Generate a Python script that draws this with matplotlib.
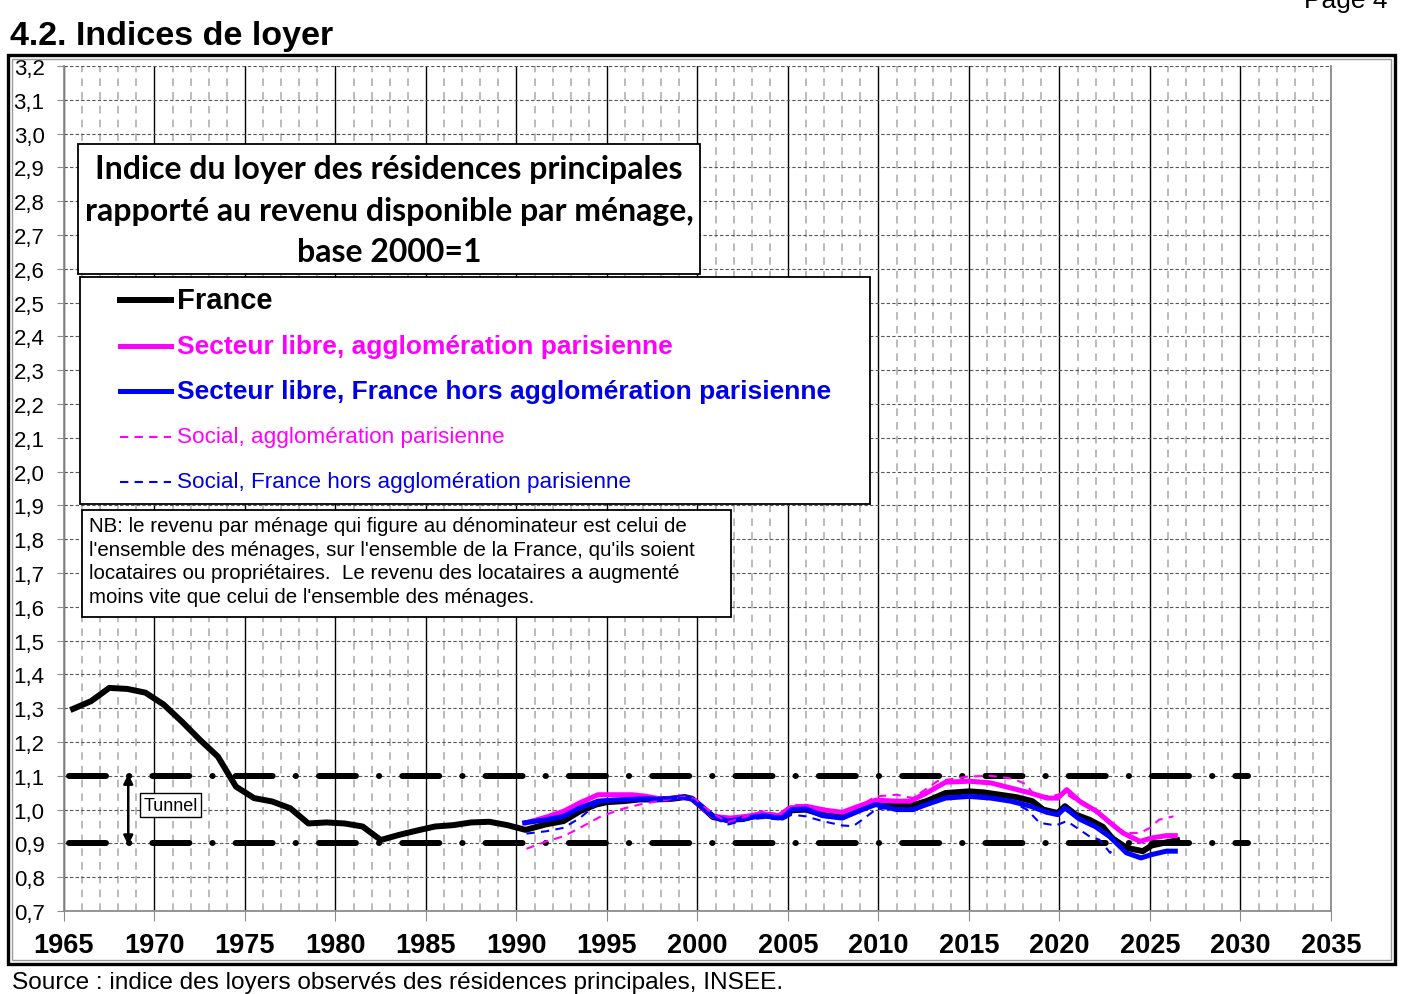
import matplotlib
matplotlib.use("Agg")
import matplotlib.pyplot as plt
from matplotlib.patches import Rectangle
from matplotlib.lines import Line2D
from matplotlib.ticker import MultipleLocator, FuncFormatter

# ---- data (years as decimals, index base 2000=1) ----
france_years = [1965.5, 1966.5, 1967.5, 1968.5, 1969.5, 1970.5, 1971.5, 1972.5,
                1973.5, 1974.5, 1975.5, 1976.5, 1977.5, 1978.5, 1979.5, 1980.5,
                1981.5, 1982.5, 1983.5, 1984.5, 1985.5, 1986.5, 1987.5, 1988.5,
                1989.5, 1990.5, 1991.6, 1992.6, 1993.5, 1994.4, 1995.0, 1995.9,
                1996.8, 1997.7, 1998.6, 1999.3, 1999.7, 2000.3, 2000.85, 2001.6,
                2002.5, 2003.2, 2004.0, 2004.7, 2005.2, 2006.0, 2006.9, 2008.0,
                2008.9, 2009.85, 2010.8, 2011.7, 2012.65, 2013.7, 2015.0, 2015.8,
                2016.7, 2017.6, 2018.5, 2019.1, 2019.9, 2020.3, 2020.9, 2021.65,
                2022.4, 2022.9, 2023.7, 2024.6, 2025.1, 2025.9, 2026.5]
france_vals = [1.298, 1.321, 1.360, 1.357, 1.346, 1.311, 1.261, 1.207,
               1.157, 1.068, 1.034, 1.024, 1.004, 0.959, 0.962, 0.959,
               0.950, 0.910, 0.925, 0.938, 0.950, 0.954, 0.962, 0.964,
               0.954, 0.940, 0.956, 0.966, 0.995, 1.015, 1.022, 1.025,
               1.030, 1.030, 1.032, 1.037, 1.032, 1.005, 0.978, 0.970,
               0.972, 0.982, 0.982, 0.978, 0.998, 1.000, 0.985, 0.978,
               1.002, 1.020, 1.015, 1.010, 1.025, 1.049, 1.054, 1.051,
               1.044, 1.037, 1.025, 1.000, 0.990, 1.010, 0.985, 0.970,
               0.949, 0.916, 0.887, 0.877, 0.894, 0.903, 0.909]

libre_paris_years = [1990.55, 1991.65, 1992.6, 1993.5, 1994.5, 1995.3, 1996.4, 1997.2,
                     1998.1, 1999.0, 1999.7, 2000.85, 2001.8, 2002.7, 2003.6, 2004.5,
                     2005.1, 2006.0, 2007.1, 2008.0, 2008.9, 2009.85, 2010.95, 2011.75,
                     2012.65, 2013.7, 2015.0, 2016.2, 2017.3, 2018.4, 2019.3, 2019.9,
                     2020.4, 2021.1, 2022.05, 2022.8, 2023.5, 2024.45, 2025.1, 2025.9,
                     2026.4]
libre_paris_vals = [0.961, 0.978, 0.995, 1.020, 1.044, 1.044, 1.044, 1.039,
                    1.030, 1.037, 1.032, 0.980, 0.975, 0.980, 0.988, 0.982,
                    1.005, 1.010, 0.998, 0.992, 1.010, 1.028, 1.025, 1.025,
                    1.049, 1.081, 1.084, 1.079, 1.064, 1.049, 1.034, 1.034,
                    1.059, 1.025, 0.995, 0.961, 0.931, 0.906, 0.916, 0.923,
                    0.923]

libre_prov_years = [1990.45, 1991.65, 1992.6, 1993.5, 1994.5, 1995.3, 1996.2, 1997.2,
                    1998.1, 1999.2, 1999.7, 2000.85, 2001.7, 2002.7, 2003.6, 2004.7,
                    2005.2, 2006.0, 2006.9, 2008.0, 2009.1, 2009.85, 2011.0, 2011.9,
                    2012.65, 2013.7, 2015.0, 2016.2, 2017.3, 2018.4, 2019.3, 2019.9,
                    2020.3, 2021.1, 2022.0, 2022.8, 2023.7, 2024.5, 2025.1, 2025.9,
                    2026.4]
libre_prov_vals = [0.961, 0.970, 0.980, 1.005, 1.025, 1.028, 1.030, 1.032,
                   1.030, 1.037, 1.032, 0.982, 0.966, 0.975, 0.982, 0.975,
                   1.000, 1.002, 0.982, 0.975, 1.000, 1.015, 1.000, 1.000,
                   1.015, 1.034, 1.039, 1.034, 1.025, 1.010, 0.992, 0.985,
                   1.005, 0.972, 0.949, 0.919, 0.872, 0.857, 0.867, 0.877,
                   0.877]

social_paris_years = [1990.55, 1991.65, 1992.6, 1993.5, 1994.6, 1995.7, 1996.8, 1997.5,
                      1998.6, 1999.4, 1999.9, 2000.85, 2001.7, 2002.7, 2003.6, 2004.5,
                      2005.2, 2006.0, 2007.1, 2008.0, 2009.1, 2009.85, 2011.0, 2011.9,
                      2013.25, 2015.0, 2016.2, 2017.45, 2018.2, 2018.55, 2019.5, 2020.3,
                      2021.1, 2022.05, 2022.9, 2023.7, 2024.45, 2025.0, 2025.5, 2026.3]
social_paris_vals = [0.884, 0.906, 0.921, 0.946, 0.978, 1.000, 1.015, 1.022,
                     1.032, 1.039, 1.030, 0.988, 0.963, 0.980, 0.995, 0.985,
                     1.015, 1.012, 0.998, 0.990, 1.015, 1.039, 1.044, 1.034,
                     1.084, 1.098, 1.100, 1.091, 1.074, 1.044, 1.039, 1.049,
                     1.020, 0.992, 0.953, 0.931, 0.931, 0.946, 0.970, 0.980]

social_prov_years = [1990.55, 1991.65, 1992.6, 1993.5, 1994.4, 1995.3, 1996.2, 1997.2,
                     1998.1, 1999.1, 1999.7, 2000.85, 2001.7, 2002.7, 2003.6, 2004.7,
                     2005.2, 2006.0, 2006.9, 2008.0, 2008.6, 2009.1, 2009.85, 2010.5,
                     2011.0, 2011.9, 2012.65, 2013.7, 2015.0, 2016.2, 2017.3, 2018.2,
                     2018.9, 2019.8, 2020.4, 2021.1, 2021.65, 2022.2, 2022.8, 2023.0]
social_prov_vals = [0.929, 0.936, 0.946, 0.975, 1.015, 1.030, 1.030, 1.030,
                    1.032, 1.035, 1.032, 0.976, 0.956, 0.970, 0.975, 0.970,
                    0.985, 0.980, 0.966, 0.953, 0.951, 0.970, 1.000, 1.005,
                    1.000, 1.000, 1.015, 1.034, 1.044, 1.040, 1.025, 1.000,
                    0.961, 0.953, 0.966, 0.941, 0.921, 0.911, 0.872, 0.888]

tunnel_levels = [0.9, 1.1]
tunnel_span = [1965.3, 2030.4]

legend_labels = ["France",
                 "Secteur libre, agglomération parisienne",
                 "Secteur libre, France hors agglomération parisienne",
                 "Social, agglomération parisienne",
                 "Social, France hors agglomération parisienne"]

MAGENTA = "#ff00ff"
BLUE = "#0000ff"
W, H = 1423, 995


def fx(px):
    return px / W


def fy(py):
    return 1 - py / H


plt.rcParams["font.family"] = ["Liberation Sans", "DejaVu Sans"]

fig = plt.figure(figsize=(W / 100, H / 100), dpi=100)
ax = fig.add_axes([fx(64), fy(912), fx(1331) - fx(64), fy(67) - fy(912)])

ax.set_xlim(1965, 2035)
ax.set_ylim(0.7, 3.2)

# grid
ax.xaxis.set_major_locator(MultipleLocator(5))
ax.xaxis.set_minor_locator(MultipleLocator(1))
ax.yaxis.set_major_locator(MultipleLocator(0.1))
ax.grid(which="minor", axis="x", color="#a8a8a8", linestyle=(0, (5, 4)), linewidth=1.1)
ax.grid(which="major", axis="x", color="black", linestyle="-", linewidth=1.0)
ax.grid(which="major", axis="y", color="#555555", linestyle=(0, (3, 2)), linewidth=0.8)
ax.set_axisbelow(True)

for side in ["left", "bottom", "right"]:
    ax.spines[side].set_color("#8c8c8c")
    ax.spines[side].set_linewidth(1.3)
ax.spines["top"].set_visible(False)

ax.yaxis.set_major_formatter(FuncFormatter(lambda v, p: f"{v:.1f}".replace(".", ",")))
ax.tick_params(axis="y", which="major", direction="out", length=5, color="#8c8c8c",
               labelsize=16, pad=9)
ax.tick_params(axis="x", which="major", direction="out", length=7, color="#8c8c8c",
               labelsize=19.5, pad=8)
ax.tick_params(axis="x", which="minor", length=0)
for lab in ax.get_xticklabels():
    lab.set_fontweight("bold")

# tunnel
for lev in tunnel_levels:
    ax.plot(tunnel_span, [lev, lev], color="black", linewidth=4.3,
            linestyle=(0, (6.2, 3.85, 0.05, 3.85)), dash_capstyle="round", zorder=3)

# series
ax.plot(france_years, france_vals, color="black", linewidth=4.3, zorder=4,
        solid_joinstyle="round")
ax.plot(libre_paris_years, libre_paris_vals, color=MAGENTA, linewidth=3.6, zorder=5)
ax.plot(libre_prov_years, libre_prov_vals, color=BLUE, linewidth=3.6, zorder=5)
ax.plot(social_paris_years, social_paris_vals, color=MAGENTA, linewidth=1.5,
        linestyle=(0, (4, 3)), zorder=6)
ax.plot(social_prov_years, social_prov_vals, color=BLUE, linewidth=1.5,
        linestyle=(0, (4, 3)), zorder=6)

# tunnel arrow + label
ax.annotate("", xy=(1968.55, 0.895), xytext=(1968.55, 1.105),
            arrowprops=dict(arrowstyle="<|-|>", color="black", lw=1.8,
                            mutation_scale=14, shrinkA=0, shrinkB=0), zorder=7)
ax.text(1970.9, 1.013, "Tunnel", fontsize=13, ha="center", va="center", zorder=8,
        bbox=dict(boxstyle="square,pad=0.18", facecolor="white", edgecolor="black",
                  linewidth=1.0))

# title box
fig.patches.append(Rectangle((fx(78), fy(275)), fx(700) - fx(78), fy(145) - fy(275),
                             transform=fig.transFigure, facecolor="white",
                             edgecolor="black", linewidth=1.3, zorder=10))
fig.text(fx(389), fy(211), "Indice du loyer des résidences principales\n"
         "rapporté au revenu disponible par ménage,\nbase 2000=1",
         family=["Lato", "DejaVu Sans"], fontweight="bold", fontsize=23,
         ha="center", va="center", linespacing=1.5, zorder=11)

# legend box (drawn by hand so each entry keeps its own font)
fig.patches.append(Rectangle((fx(80), fy(505)), fx(870) - fx(80), fy(278) - fy(505),
                             transform=fig.transFigure, facecolor="white",
                             edgecolor="black", linewidth=1.3, zorder=10))
leg_rows = [301, 347, 392, 438, 483]
leg_colors = ["black", MAGENTA, "#0000e6", MAGENTA, "#0000e6"]
leg_weights = ["bold", "bold", "bold", "normal", "normal"]
leg_sizes = [21, 19, 19, 16.2, 16.2]
leg_styles = ["-", "-", "-", (0, (4, 3)), (0, (4, 3))]
leg_widths = [4.3, 3.6, 3.6, 1.5, 1.5]
for row, lab, col, wt, sz, ls, lw in zip(leg_rows, legend_labels, leg_colors,
                                         leg_weights, leg_sizes, leg_styles, leg_widths):
    fig.lines.append(Line2D([fx(120), fx(171)], [fy(row), fy(row)], transform=fig.transFigure,
                            color=col if col != "#0000e6" else BLUE, linewidth=lw,
                            linestyle=ls, zorder=11))
    fig.text(fx(177), fy(row), lab, color=col, fontweight=wt, fontsize=sz,
             ha="left", va="center", zorder=11)

# NB box
fig.patches.append(Rectangle((fx(82), fy(618)), fx(731) - fx(82), fy(511) - fy(618),
                             transform=fig.transFigure, facecolor="white",
                             edgecolor="black", linewidth=1.3, zorder=10))
fig.text(fx(89), fy(562), "NB: le revenu par ménage qui figure au dénominateur est celui de\n"
         "l'ensemble des ménages, sur l'ensemble de la France, qu'ils soient\n"
         "locataires ou propriétaires.  Le revenu des locataires a augmenté\n"
         "moins vite que celui de l'ensemble des ménages.",
         fontsize=14.8, ha="left", va="center", linespacing=1.32, zorder=11)

# outer double frame
fig.patches.append(Rectangle((fx(8), fy(965)), fx(1395) - fx(8), fy(56) - fy(965),
                             transform=fig.transFigure, facecolor="none",
                             edgecolor="black", linewidth=2.4, zorder=1))
fig.patches.append(Rectangle((fx(12), fy(961)), fx(1391) - fx(12), fy(60) - fy(961),
                             transform=fig.transFigure, facecolor="none",
                             edgecolor="#9a9a9a", linewidth=1.0, zorder=1))

# page title, page number and source
fig.text(fx(10), fy(36), "4.2. Indices de loyer", fontsize=24.5, fontweight="bold",
         ha="left", va="center")
fig.text(fx(1388), fy(1), "Page 4", fontsize=19, ha="right", va="center")
fig.text(fx(12), fy(983), "Source : indice des loyers observés des résidences principales, INSEE.",
         fontsize=17.6, ha="left", va="center")

fig.savefig("out.png", dpi=100)
